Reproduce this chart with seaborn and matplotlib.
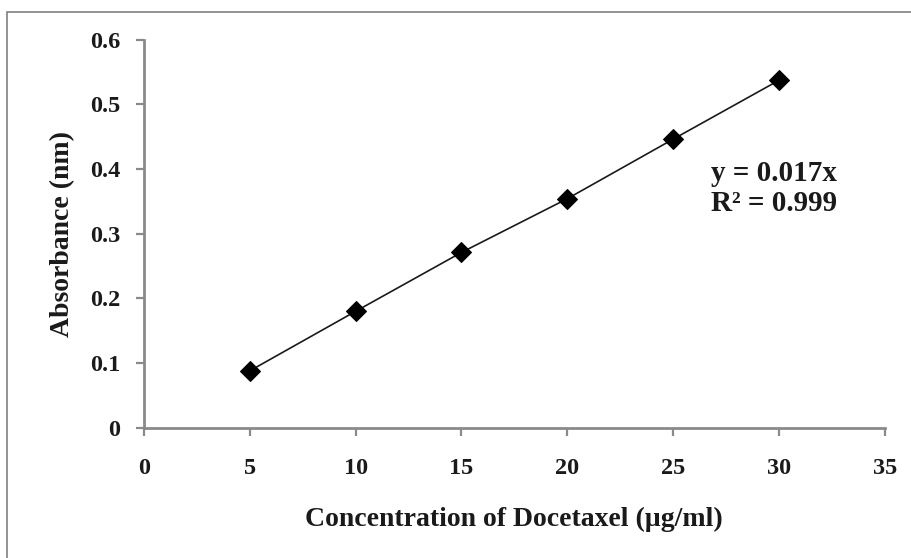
import matplotlib
matplotlib.use("Agg")
import matplotlib.pyplot as plt
import seaborn as sns
import pandas as pd
from matplotlib.patches import Rectangle

# Calibration data: docetaxel concentration vs. absorbance
concentration = [5, 10, 15, 20, 25, 30]
absorbance = [0.088, 0.180, 0.271, 0.354, 0.446, 0.537]
x_ticks = [0, 5, 10, 15, 20, 25, 30, 35]
y_ticks = [0, 0.1, 0.2, 0.3, 0.4, 0.5, 0.6]
y_tick_labels = ["0", "0.1", "0.2", "0.3", "0.4", "0.5", "0.6"]
equation_text = "y = 0.017x\nR² = 0.999"

df = pd.DataFrame({"conc": concentration, "abs": absorbance})

sns.set_theme(style="white")
plt.rcParams["font.family"] = ["Liberation Serif", "DejaVu Serif"]
plt.rcParams["font.weight"] = "bold"

fig = plt.figure(figsize=(9.12, 5.58), dpi=100)
ax = fig.add_axes([0.158, 0.2335, 0.812, 0.6955])

sns.lineplot(data=df, x="conc", y="abs", ax=ax, color="#1a1a1a", linewidth=1.2,
             marker="D", markersize=10, markeredgecolor="black",
             markerfacecolor="black", zorder=3)

ax.set_xlim(0, 35)
ax.set_ylim(0, 0.6)
ax.set_xticks(x_ticks)
ax.set_yticks(y_ticks)
ax.set_yticklabels(y_tick_labels)

spine_color = "#8a8a8a"
for side in ["top", "right"]:
    ax.spines[side].set_visible(False)
for side in ["left", "bottom"]:
    ax.spines[side].set_color(spine_color)
    ax.spines[side].set_linewidth(2)

ax.tick_params(axis="both", which="major", direction="out", length=6, width=1.6,
               color=spine_color, labelsize=17.5, labelcolor="#1a1a1a",
               bottom=True, left=True)
ax.tick_params(axis="y", pad=11)
ax.tick_params(axis="x", pad=16)
for lbl in ax.get_xticklabels() + ax.get_yticklabels():
    lbl.set_fontweight("bold")

ax.set_xlabel("Concentration of Docetaxel (µg/ml)", fontsize=20, fontweight="bold",
              color="#1a1a1a", labelpad=20)
ax.set_ylabel("Absorbance (nm)", fontsize=20, fontweight="bold",
              color="#1a1a1a", labelpad=11)

ax.text(26.8, 0.37, equation_text, fontsize=21, fontweight="bold", color="#1a1a1a",
        ha="left", va="center", linespacing=1.12)

# Outer frame around the chart area
fig.patches.append(Rectangle((7.5 / 912, -0.05), 1.2, 1.05 - 12 / 558,
                             transform=fig.transFigure, fill=False,
                             edgecolor="#8a8a8a", linewidth=1.3))

fig.savefig("out.png", dpi=100)
